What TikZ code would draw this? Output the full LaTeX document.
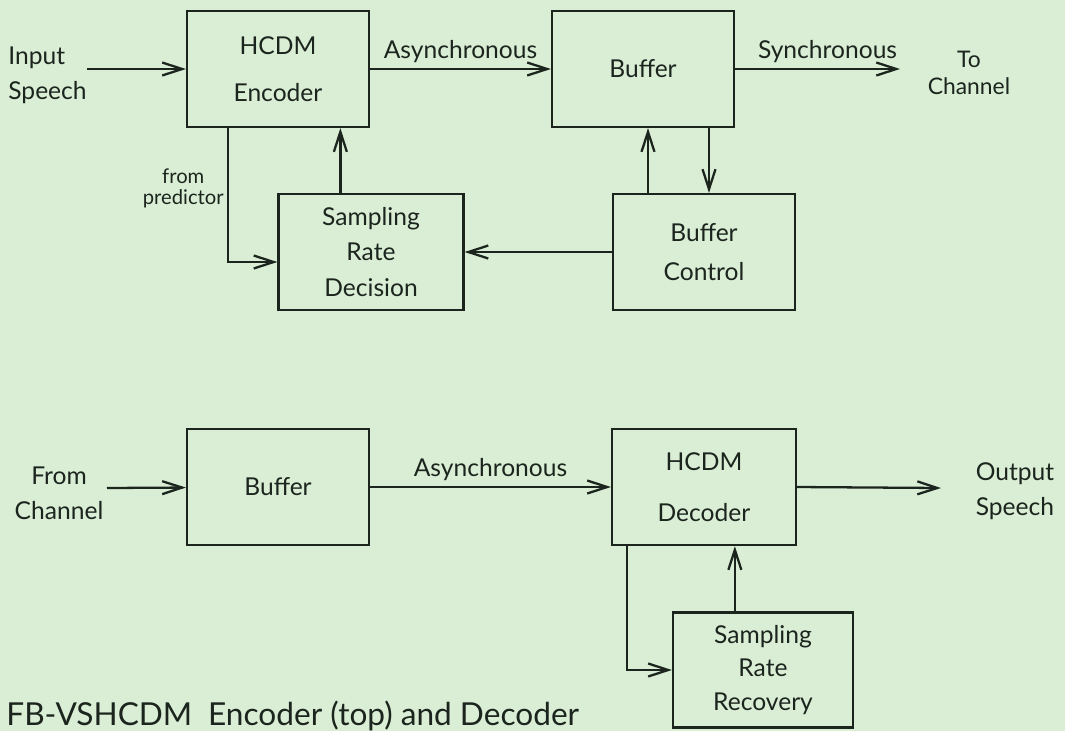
\documentclass[tikz,border=0pt]{standalone}
\usepackage{fontspec}
\setmainfont{Lato}
\usetikzlibrary{arrows.meta}
\definecolor{paper}{RGB}{217,238,213}
\definecolor{ink}{RGB}{28,36,30}

\begin{document}
\begin{tikzpicture}[x=0.02cm, y=-0.02cm, every node/.style={font=\fontsize{14}{20}\selectfont, text=ink}, >={Straight Barb[length=4mm, width=2.6mm]}, block/.style={draw=ink, line width=1.3pt, minimum width=3.64cm, minimum height=2.32cm, align=center, inner sep=0pt}, flow/.style={draw=ink, line width=1.3pt, ->}, lbl/.style={above, inner sep=3pt}]
	\fill[paper] (0,0) rectangle (1065,731);
	\useasboundingbox (0,0) rectangle (1065,731);
	% encoder
	\node[block] (enc) at (278,69) {HCDM\\[7pt]Encoder};
	\node[block] (buf) at (643,69) {Buffer};
	\node[block] (ctl) at (704,252) {Buffer\\[2pt]Control};
	\node[block, minimum width=3.7cm] (srd) at (371,252) {Sampling\\Rate\\Decision};
	\node[anchor=west, align=left, inner sep=0pt] (inp) at (8,75) {Input\\Speech};
	\node[align=center, inner sep=0pt, font=\fontsize{13}{15}\selectfont] (tochan) at (969,73) {To\\Channel};
	\node[anchor=east, align=center, inner sep=0pt, font=\fontsize{11.5}{12}\selectfont] (pred) at (224,188) {from\\predictor};
	\coordinate (inpend) at (87,69);
	\coordinate (synend) at (900,69);
	\draw[flow] (inpend) -- (enc);
	\draw[flow] (enc) -- (buf) node[lbl, midway] {Asynchronous};
	\draw[flow] (buf.east) -- (synend) node[lbl, midway, xshift=0.2cm] {Synchronous};
	\draw[flow] ([xshift=0.1cm]ctl.north -| buf.south) -- ([xshift=0.1cm]buf.south);
	\draw[flow] ([xshift=0.1cm]buf.south -| ctl.north) -- ([xshift=0.1cm]ctl.north);
	\draw[flow] (ctl) -- (srd);
	\draw[flow] ([xshift=1.26cm]srd.north west) -- ([xshift=1.26cm]srd.north west |- enc.south);
	\draw[flow] ([xshift=0.84cm]enc.south west) |- ([yshift=-0.2cm]srd.west);
	% decoder
	\node[block] (dbuf) at (278,487) {Buffer};
	\node[block, minimum width=3.68cm] (dec) at (704,487) {HCDM\\[9pt]Decoder};
	\node[block, minimum width=3.6cm, minimum height=2.3cm] (srr) at (763,670) {Sampling\\[-1pt]Rate\\[-1pt]Recovery};
	\node[align=center, inner sep=0pt] (frch) at (59,493) {From\\Channel};
	\node[align=center, inner sep=0pt] (outsp) at (1015,491) {Output\\Speech};
	\coordinate (frend) at (107,488);
	\coordinate (outend) at (941,488);
	\draw[flow] (frend) -- (dbuf);
	\draw[flow] (dbuf) -- (dec) node[lbl, midway] {Asynchronous};
	\draw[flow] (dec.east) -- (outend);
	\draw[flow] ([xshift=1.26cm]srr.north west) -- ([xshift=1.26cm]srr.north west |- dec.south);
	\draw[flow] ([xshift=0.32cm]dec.south west) |- (srr.west);
	\node[anchor=base west, inner sep=0pt, font=\fontsize{18}{20}\selectfont] (cap) at (6,725) {FB-VSHCDM\enspace Encoder (top) and Decoder};
\end{tikzpicture}
\end{document}
